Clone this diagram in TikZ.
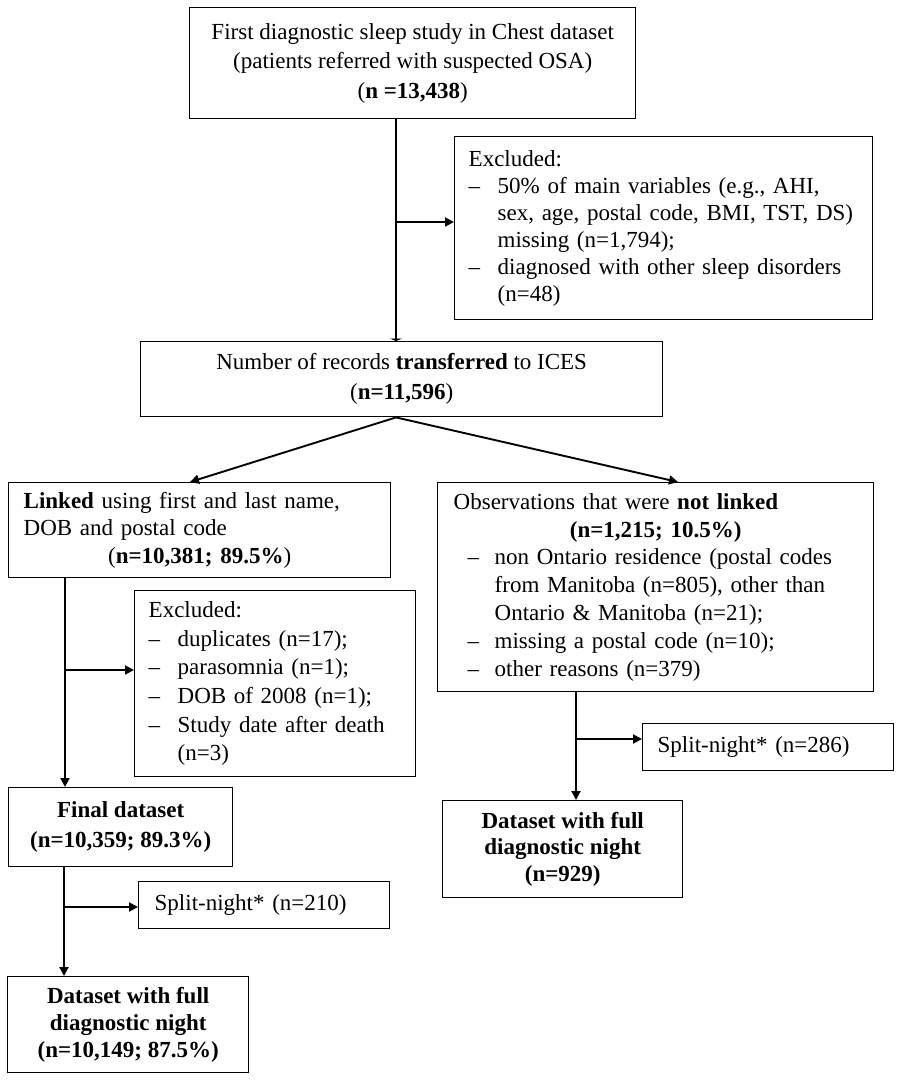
\documentclass[tikz,border=0pt]{standalone}
\usepackage{fontspec}
\setmainfont{Liberation Serif}
\usetikzlibrary{arrows.meta,calc}
\newcommand\dashind[1]{\makebox[#1][l]{–}}
\begin{document}
\begin{tikzpicture}[x=1pt,y=-1pt,
  box/.style={draw, line width=1.4pt, anchor=north west, inner sep=0pt},
  ln/.style={line width=1.9pt},
  arr/.style={line width=1.9pt, -{Triangle[length=9pt,width=9pt]}}]
\useasboundingbox (0,0) rectangle (901,1080);

\node[box, minimum width=446pt, minimum height=111pt, align=center,
  font=\fontsize{23}{29.5}\selectfont] (top) at (189,7)
  {First diagnostic sleep study in Chest dataset\\(patients referred with suspected OSA)\\(\textbf{n =13,438})};

\node[box, minimum width=418pt, minimum height=183pt, text width=390pt, align=left,
  font=\fontsize{23}{27}\selectfont] (ex1) at (454,136)
  {Excluded:\\
   \dashind{29pt}50\% of main variables (e.g., AHI,\\
   \hspace*{29pt}sex, age, postal code, BMI, TST, DS)\\
   \hspace*{29pt}missing (n=1,794);\\
   \dashind{29pt}diagnosed with other sleep disorders\\
   \hspace*{29pt}(n=48)};

\node[box, minimum width=522pt, minimum height=75pt, align=center,
  font=\fontsize{23}{30}\selectfont] (box2) at (140,341)
  {Number of records \textbf{transferred} to ICES\\(\textbf{n=11,596})};

\node[box, minimum width=382pt, minimum height=95pt, text width=352pt, align=left,
  font=\fontsize{23}{27.5}\selectfont] (linked) at (8,482)
  {\textbf{Linked} using first and last name,\\
   DOB and postal code\\
   \makebox[352pt][c]{(\textbf{n=10,381; 89.5\%})}};

\node[box, minimum width=281pt, minimum height=186pt, text width=253pt, align=left,
  font=\fontsize{23}{28.6}\selectfont] (ex2) at (134,590)
  {Excluded:\\
   \dashind{29pt}duplicates (n=17);\\
   \dashind{29pt}parasomnia (n=1);\\
   \dashind{29pt}DOB of 2008 (n=1);\\
   \dashind{29pt}Study date after death\\
   \hspace*{29pt}(n=3)};

\node[box, minimum width=436pt, minimum height=209pt, text width=404pt, align=left,
  font=\fontsize{23}{27.8}\selectfont] (obs) at (437,482)
  {Observations that were \textbf{not linked}\\
   \makebox[404pt][c]{\textbf{(n=1,215; 10.5\%)}}\\
   \hspace*{14pt}\dashind{27pt}non Ontario residence (postal codes\\
   \hspace*{41pt}from Manitoba (n=805), other than\\
   \hspace*{41pt}Ontario \& Manitoba (n=21);\\
   \hspace*{14pt}\dashind{27pt}missing a postal code (n=10);\\
   \hspace*{14pt}\dashind{27pt}other reasons (n=379)};

\node[box, minimum width=251pt, minimum height=47pt, text width=221pt, align=left,
  font=\fontsize{23}{27}\selectfont] (splitR) at (642,723)
  {Split-night* (n=286)};

\node[box, minimum width=240pt, minimum height=97pt, align=center,
  font=\fontsize{23}{26.5}\selectfont\bfseries] (dsR) at (442,800)
  {Dataset with full\\diagnostic night\\(n=929)};

\node[box, minimum width=224pt, minimum height=79pt, align=center,
  font=\fontsize{23}{30}\selectfont\bfseries] (final) at (8,787)
  {Final dataset\\(n=10,359; 89.3\%)};

\node[box, minimum width=251pt, minimum height=47pt, text width=219pt, align=left,
  font=\fontsize{23}{27}\selectfont] (splitL) at (138,881)
  {Split-night* (n=210)};

\node[box, minimum width=241pt, minimum height=96pt, align=center,
  font=\fontsize{23}{27}\selectfont\bfseries] (dsL) at (7,976)
  {Dataset with full\\diagnostic night\\(n=10,149; 87.5\%)};

% connectors
\coordinate (j1) at (396,222);
\draw[ln, -{Triangle[length=2.5pt,width=12pt]}] (j1 |- top.south) -- (j1 |- box2.north);
\draw[arr] (j1) -- (j1 -| ex1.west);
\draw[arr] (box2.south -| j1) -- ([xshift=182pt]linked.north west);
\draw[arr] (box2.south -| j1) -- ([xshift=241pt]obs.north west);

\coordinate (j2) at (65,670);
\draw[arr] (j2 |- linked.south) -- (j2 |- final.north);
\draw[arr] (j2) -- (j2 -| ex2.west);

\coordinate (j3) at (64,907);
\draw[arr] (j3 |- final.south) -- (j3 |- dsL.north);
\draw[arr] (j3) -- (j3 -| splitL.west);

\coordinate (j4) at (576,739);
\draw[arr] (j4 |- obs.south) -- (j4 |- dsR.north);
\draw[arr] (j4) -- (j4 -| splitR.west);
\end{tikzpicture}
\end{document}
